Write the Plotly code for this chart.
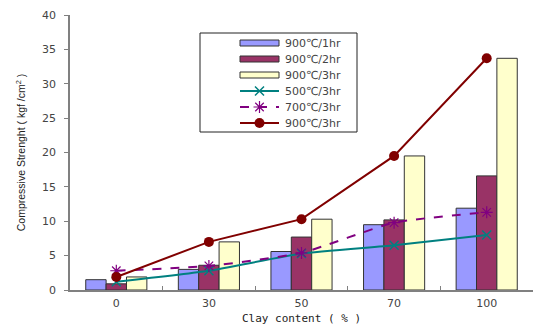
import plotly.graph_objects as go

# Clay content categories (%)
clay = ["0", "30", "50", "70", "100"]

# Bar series: compressive strength after firing at 900 °C
bar_900_1hr = [1.5, 3.0, 5.6, 9.5, 11.9]
bar_900_2hr = [0.9, 3.6, 7.7, 10.2, 16.6]
bar_900_3hr = [1.9, 7.0, 10.3, 19.5, 33.7]

# Line series: 3 hour firing at different temperatures
line_500_3hr = [1.2, 2.8, 5.3, 6.5, 8.0]
line_700_3hr = [2.8, 3.5, 5.4, 9.8, 11.3]
line_900_3hr = [1.9, 7.0, 10.3, 19.5, 33.7]

y_ticks = [0, 5, 10, 15, 20, 25, 30, 35, 40]

W, H = 534, 325
ML, MR, MT, MB = 70, 1, 15, 35

text_font = "DejaVu Sans"
edge = dict(color="#333333", width=1)

BLUE, PLUM, CREAM = "#9999FF", "#993366", "#FFFFCC"
TEAL, PURPLE, MAROON = "#008080", "#800080", "#800000"

fig = go.Figure()
fig.add_trace(go.Bar(x=clay, y=bar_900_1hr, name="900℃/1hr",
                     marker=dict(color=BLUE, line=edge)))
fig.add_trace(go.Bar(x=clay, y=bar_900_2hr, name="900℃/2hr",
                     marker=dict(color=PLUM, line=edge)))
fig.add_trace(go.Bar(x=clay, y=bar_900_3hr, name="900℃/3hr",
                     marker=dict(color=CREAM, line=edge)))

teal_line = dict(color=TEAL, width=2)
teal_marker = dict(symbol="x-thin-open", size=9, color=TEAL,
                   line=dict(color=TEAL, width=1.5))
purple_line = dict(color=PURPLE, width=2, dash="dash")
purple_marker = dict(symbol="asterisk-open", size=10, color=PURPLE,
                     line=dict(color=PURPLE, width=1.2))
maroon_line = dict(color=MAROON, width=2)
maroon_marker = dict(symbol="circle", size=10, color=MAROON)

fig.add_trace(go.Scatter(x=clay, y=line_500_3hr, name="500℃/3hr", mode="lines+markers",
                         line=dict(teal_line, shape="spline", smoothing=0.5),
                         marker=teal_marker))
fig.add_trace(go.Scatter(x=clay, y=line_700_3hr, name="700℃/3hr", mode="lines+markers",
                         line=dict(purple_line, shape="spline", smoothing=0.5),
                         marker=purple_marker))
fig.add_trace(go.Scatter(x=clay, y=line_900_3hr, name="900℃/3hr", mode="lines+markers",
                         line=maroon_line, marker=maroon_marker))

# ---- Legend box, drawn on an overlay axis measured in screen pixels ----
LEG_X0, LEG_X1, LEG_Y0, LEG_Y1 = 200, 357, 33, 132
ROW_Y0, ROW_STEP = 43, 16
SW_X0, SW_X1, TXT_X = 240, 279, 283

legend_rows = [
    ("900℃/1hr", "bar", BLUE),
    ("900℃/2hr", "bar", PLUM),
    ("900℃/3hr", "bar", CREAM),
    ("500℃/3hr", "line", (teal_line, teal_marker)),
    ("700℃/3hr", "line", (purple_line, purple_marker)),
    ("900℃/3hr", "line", (maroon_line, maroon_marker)),
]

shapes = [dict(type="rect", xref="x2", yref="y2", x0=LEG_X0, x1=LEG_X1, y0=LEG_Y0, y1=LEG_Y1,
               line=dict(color="#222222", width=1), fillcolor="white", layer="below")]
annotations = []
for i, (label, kind, style) in enumerate(legend_rows):
    yc = ROW_Y0 + i * ROW_STEP
    if kind == "bar":
        shapes.append(dict(type="rect", xref="x2", yref="y2", x0=SW_X0, x1=SW_X1,
                           y0=yc - 3, y1=yc + 3, fillcolor=style,
                           line=dict(color="#333333", width=1), layer="above"))
    else:
        ln, mk = style
        xm = (SW_X0 + SW_X1) / 2
        fig.add_trace(go.Scatter(x=[SW_X0, SW_X1], y=[yc, yc], mode="lines", line=ln,
                                 xaxis="x2", yaxis="y2", showlegend=False, hoverinfo="skip"))
        fig.add_trace(go.Scatter(x=[xm], y=[yc], mode="markers", marker=mk,
                                 xaxis="x2", yaxis="y2", showlegend=False, hoverinfo="skip"))
    annotations.append(dict(xref="x2", yref="y2", x=TXT_X, y=yc, text=label,
                            showarrow=False, xanchor="left", yanchor="middle",
                            font=dict(family=text_font, size=11, color="#444444")))

fig.update_layout(
    width=W, height=H,
    margin=dict(l=ML, r=MR, t=MT, b=MB),
    paper_bgcolor="white", plot_bgcolor="white",
    barmode="group", bargap=0.34, bargroupgap=0,
    font=dict(family=text_font, size=11, color="#444444"),
    showlegend=False,
    shapes=shapes,
    annotations=annotations,
    xaxis=dict(
        type="category",
        showline=True, linecolor="#808080", linewidth=1.5,
        ticks="inside", ticklen=4, tickcolor="#808080", tickson="boundaries",
        ticklabelstandoff=2,
        showgrid=False, zeroline=False,
        title=dict(text="Clay content ( % )", standoff=6,
                   font=dict(family="DejaVu Sans Mono", size=11, color="#222222")),
    ),
    yaxis=dict(
        range=[0, 40], tickvals=y_ticks,
        showline=True, linecolor="#808080", linewidth=1.5,
        ticks="outside", ticklen=4, tickcolor="#808080",
        ticklabelstandoff=6,
        showgrid=False, zeroline=False,
        title=dict(text="Compressive Strenght ( kgf /cm<sup>2</sup> )", standoff=14,
                   font=dict(family="Liberation Sans", size=10.5, color="#222222")),
    ),
    xaxis2=dict(overlaying="x", range=[ML, W - MR], visible=False, fixedrange=True),
    yaxis2=dict(overlaying="y", range=[H - MB, MT], visible=False, fixedrange=True),
)

fig.write_html("out.html")
